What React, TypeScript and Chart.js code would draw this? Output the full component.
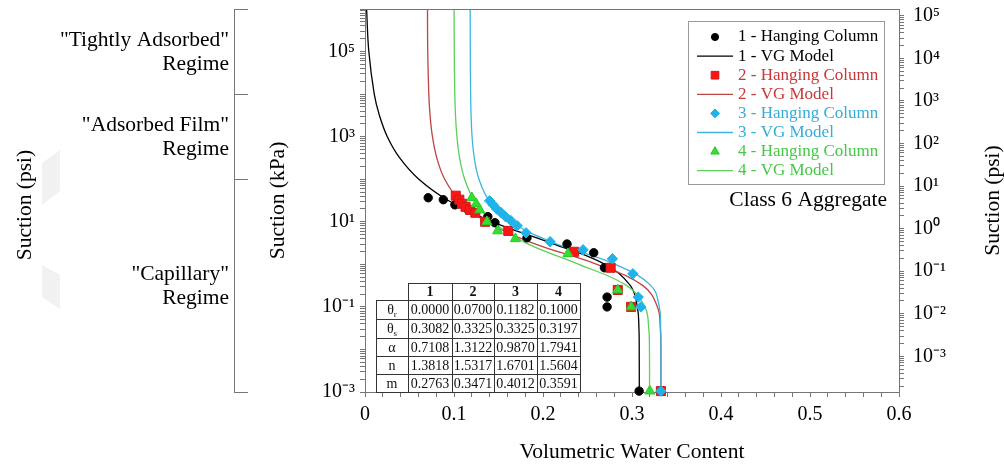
import React, { useEffect, useRef } from 'react';
import { Chart, registerables } from 'chart.js';
import { drawPoint } from 'chart.js/helpers';

Chart.register(...registerables);

const FONT = '"Liberation Serif", "Times New Roman", Times, serif';
const AXIS = '#767676';
const TITLE_SIZE = 21.5;

// ---------------- data ----------------
// VG model curves: suction (kPa) and volumetric water content along each curve
const vgSuction = [1000000, 100000, 10000, 3162, 1000, 316.2, 100, 31.62, 10, 3.162, 1, 0.3162, 0.1, 0.03162, 0.01, 0.001];
const vg1Theta = [0.0018, 0.0043, 0.0104, 0.0162, 0.0251, 0.039, 0.0605, 0.0936, 0.1432, 0.2092, 0.2696, 0.2982, 0.306, 0.3078, 0.3081, 0.3082];
const vg2Theta = [0.0702, 0.0705, 0.0717, 0.0731, 0.0758, 0.0807, 0.0896, 0.1062, 0.1364, 0.1886, 0.2605, 0.3123, 0.3286, 0.3318, 0.3324, 0.3325];
const vg3Theta = [0.1182, 0.1183, 0.1187, 0.1192, 0.1203, 0.1228, 0.1281, 0.1395, 0.164, 0.2127, 0.2812, 0.3213, 0.3307, 0.3322, 0.3325, 0.3325];
const vg4Theta = [0.1001, 0.1003, 0.1009, 0.1017, 0.1033, 0.1063, 0.112, 0.1228, 0.1434, 0.1812, 0.2403, 0.2941, 0.3145, 0.3188, 0.3196, 0.3197];

// Hanging column measurements
const hc1Theta = [0.071, 0.088, 0.101, 0.116, 0.138, 0.146, 0.182, 0.227, 0.257, 0.269, 0.272, 0.272, 0.308];
const hc1Suction = [36.7, 33, 25, 19, 13.2, 9.5, 4.2, 3.0, 1.87, 0.83, 0.17, 0.1, 0.00105];
const hc2Theta = [0.102, 0.106, 0.109, 0.113, 0.118, 0.124, 0.135, 0.161, 0.235, 0.276, 0.284, 0.299, 0.3325];
const hc2Suction = [41, 33, 26.5, 22.5, 19.1, 16.3, 10, 6.1, 1.97, 0.83, 0.25, 0.1, 0.00105];
const hc3Theta = [0.14, 0.144, 0.148, 0.153, 0.158, 0.164, 0.171, 0.181, 0.208, 0.245, 0.278, 0.301, 0.307, 0.31, 0.3325];
const hc3Suction = [31, 25, 20, 16.3, 13.1, 10.6, 8.05, 5.5, 3.4, 2.2, 1.35, 0.6, 0.17, 0.1, 0.00105];
const hc4Theta = [0.12, 0.125, 0.129, 0.137, 0.149, 0.169, 0.228, 0.284, 0.299, 0.32];
const hc4Suction = [36.7, 26.5, 19, 10, 6.1, 4.0, 1.77, 0.25, 0.1, 0.00105];

// axis ticks
const xLabelValues = [0, 0.1, 0.2, 0.3, 0.4, 0.5, 0.6];
const xTickLabels = ['0', '0.1', '0.2', '0.3', '0.4', '0.5', '0.6'];
const kpaLabelValues = [0.001, 0.1, 10, 1000, 100000];
const kpaTickLabels = ['10⁻³', '10⁻¹', '10¹', '10³', '10⁵'];
const psiLabelValues = [0.001, 0.01, 0.1, 1, 10, 100, 1000, 10000, 100000];
const psiTickLabels = ['10⁻³', '10⁻²', '10⁻¹', '10⁰', '10¹', '10²', '10³', '10⁴', '10⁵'];
const KPA_PER_PSI = 6.895;
const KPA_MIN = 0.001;
const KPA_MAX = 1000000;

// parameter table
const tableHeader = ['1', '2', '3', '4'];
const tableRowLabels = [['θ', 'r'], ['θ', 's'], ['α', ''], ['n', ''], ['m', '']];
const tableThetaR = ['0.0000', '0.0700', '0.1182', '0.1000'];
const tableThetaS = ['0.3082', '0.3325', '0.3325', '0.3197'];
const tableAlpha = ['0.7108', '1.3122', '0.9870', '1.7941'];
const tableN = ['1.3818', '1.5317', '1.6701', '1.5604'];
const tableM = ['0.2763', '0.3471', '0.4012', '0.3591'];

// suction regimes (kPa bounds)
const regimeBounds = [1000000, 10000, 100, 0.001];
const regimeLabels = [['"Tightly Adsorbed"', 'Regime'], ['"Adsorbed Film"', 'Regime'], ['"Capillary"', 'Regime']];

const series = [
  { name: '1', marker: 'circle', fill: '#000000', border: '#000000', radius: 4.2, line: '#000000', text: '#000000', hcT: hc1Theta, hcS: hc1Suction, vg: vg1Theta, mOrder: 3, lOrder: 13 },
  { name: '2', marker: 'rect', fill: '#ff1414', border: '#c81e1e', radius: 6.4, line: '#bf4444', text: '#c83737', hcT: hc2Theta, hcS: hc2Suction, vg: vg2Theta, mOrder: 2, lOrder: 12 },
  { name: '3', marker: 'rectRot', fill: '#1eb4ea', border: '#1eb4ea', radius: 5.2, line: '#3cb6e0', text: '#35acd8', hcT: hc3Theta, hcS: hc3Suction, vg: vg3Theta, mOrder: 0, lOrder: 10 },
  { name: '4', marker: 'triangle', fill: '#33dd33', border: '#2cc82c', radius: 5.8, line: '#5ccf5c', text: '#45c845', hcT: hc4Theta, hcS: hc4Suction, vg: vg4Theta, mOrder: 1, lOrder: 11 },
];

function decadeTicks(min: number, max: number) {
  const out: number[] = [];
  for (let k = -5; k <= 6; k++) {
    for (let m = 1; m <= 9; m++) {
      const v = m * Math.pow(10, k);
      if (v >= min * 0.9999 && v <= max * 1.0001) out.push(v);
    }
  }
  return out;
}

function labelFor(v: number, values: number[], labels: string[]) {
  for (let i = 0; i < values.length; i++) {
    if (Math.abs(Math.log10(v) - Math.log10(values[i])) < 1e-6) return labels[i];
  }
  return '';
}

const decorPlugin = {
  id: 'decor',
  afterDraw(chart: any) {
    const ctx: CanvasRenderingContext2D = chart.ctx;
    const { left, right, top, bottom } = chart.chartArea;
    const ys = chart.scales.y;
    ctx.save();

    // top frame line
    ctx.strokeStyle = AXIS;
    ctx.lineWidth = 1;
    ctx.beginPath();
    ctx.moveTo(left, top + 0.5);
    ctx.lineTo(right, top + 0.5);
    ctx.stroke();

    // faint watermark shapes at far left
    ctx.fillStyle = '#f1f1f1';
    ctx.beginPath();
    ctx.moveTo(42, 163); ctx.lineTo(60, 150); ctx.lineTo(60, 191); ctx.lineTo(42, 205); ctx.closePath();
    ctx.fill();
    ctx.beginPath();
    ctx.moveTo(42, 265); ctx.lineTo(60, 275); ctx.lineTo(60, 309); ctx.lineTo(42, 297); ctx.closePath();
    ctx.fill();

    // regime bracket
    const bx = left - 131;
    const ypix = regimeBounds.map((v) => Math.round(ys.getPixelForValue(v)) + 0.5);
    ctx.strokeStyle = AXIS;
    ctx.beginPath();
    ctx.moveTo(bx + 0.5, ypix[0]);
    ctx.lineTo(bx + 0.5, ypix[ypix.length - 1]);
    ypix.forEach((y) => {
      ctx.moveTo(bx, y);
      ctx.lineTo(bx + 14, y);
    });
    ctx.stroke();

    ctx.fillStyle = '#000';
    ctx.font = `${TITLE_SIZE}px ${FONT}`;
    ctx.textAlign = 'right';
    ctx.textBaseline = 'middle';
    regimeLabels.forEach((lines, i) => {
      const mid = (ypix[i] + ypix[i + 1]) / 2;
      ctx.fillText(lines[0], bx - 5, mid - 12);
      ctx.fillText(lines[1], bx - 5, mid + 12);
    });

    // left "Suction (psi)" title
    ctx.save();
    ctx.translate(25, 205);
    ctx.rotate(-Math.PI / 2);
    ctx.textAlign = 'center';
    ctx.fillText('Suction (psi)', 0, 0);
    ctx.restore();

    // right "Suction (psi)" title
    ctx.save();
    ctx.translate(993, (top + bottom) / 2);
    ctx.rotate(-Math.PI / 2);
    ctx.textAlign = 'center';
    ctx.fillText('Suction (psi)', 0, 0);
    ctx.restore();

    // annotation
    ctx.textAlign = 'right';
    ctx.fillText('Class 6 Aggregate', right - 12, top + 191);

    // legend
    const lx0 = right - 211, lx1 = right - 15, ly0 = top + 12, ly1 = top + 175;
    ctx.fillStyle = '#fff';
    ctx.fillRect(lx0, ly0, lx1 - lx0, ly1 - ly0);
    ctx.strokeStyle = '#9a9a9a';
    ctx.strokeRect(lx0 + 0.5, ly0 + 0.5, lx1 - lx0, ly1 - ly0);
    ctx.font = `17px ${FONT}`;
    ctx.textAlign = 'left';
    series.forEach((s, i) => {
      const y1 = top + 28 + (2 * i) * 19.1;
      const y2 = top + 28 + (2 * i + 1) * 19.1;
      ctx.fillStyle = s.fill;
      ctx.strokeStyle = s.border;
      ctx.lineWidth = 1;
      drawPoint(ctx, { pointStyle: s.marker, radius: s.radius * 0.85, rotation: 0, borderWidth: 1 } as any, right - 184, y1);
      ctx.strokeStyle = s.line;
      ctx.lineWidth = 1.3;
      ctx.beginPath();
      ctx.moveTo(right - 202, y2);
      ctx.lineTo(right - 166, y2);
      ctx.stroke();
      ctx.fillStyle = s.text;
      ctx.fillText(`${s.name} - Hanging Column`, right - 161, y1);
      ctx.fillText(`${s.name} - VG Model`, right - 161, y2);
    });

    // parameter table
    const tx = left + 11;
    const tyTop = bottom - 109;
    const colEdges = [0, 32, 76, 118, 161, 204].map((c) => tx + c);
    const rowEdges = [0, 17, 36, 55, 73, 91, 109].map((r) => tyTop + r);
    ctx.fillStyle = '#fff';
    ctx.fillRect(colEdges[1], rowEdges[0], colEdges[5] - colEdges[1], rowEdges[1] - rowEdges[0]);
    ctx.fillRect(colEdges[0], rowEdges[1], colEdges[5] - colEdges[0], rowEdges[6] - rowEdges[1]);
    ctx.strokeStyle = '#333';
    ctx.lineWidth = 1;
    ctx.beginPath();
    ctx.moveTo(colEdges[1], rowEdges[0] + 0.5);
    ctx.lineTo(colEdges[5], rowEdges[0] + 0.5);
    for (let r = 1; r < rowEdges.length; r++) {
      ctx.moveTo(colEdges[0], rowEdges[r] + 0.5);
      ctx.lineTo(colEdges[5], rowEdges[r] + 0.5);
    }
    ctx.moveTo(colEdges[0] + 0.5, rowEdges[1]);
    ctx.lineTo(colEdges[0] + 0.5, rowEdges[6]);
    for (let c = 1; c < colEdges.length; c++) {
      ctx.moveTo(colEdges[c] + 0.5, rowEdges[0]);
      ctx.lineTo(colEdges[c] + 0.5, rowEdges[6]);
    }
    ctx.stroke();

    ctx.fillStyle = '#111';
    ctx.textAlign = 'center';
    ctx.textBaseline = 'middle';
    ctx.font = `bold 14px ${FONT}`;
    tableHeader.forEach((h, c) => {
      ctx.fillText(h, (colEdges[c + 1] + colEdges[c + 2]) / 2, (rowEdges[0] + rowEdges[1]) / 2 + 1);
    });
    const rows = [tableThetaR, tableThetaS, tableAlpha, tableN, tableM];
    rows.forEach((vals, r) => {
      const cy = (rowEdges[r + 1] + rowEdges[r + 2]) / 2 + 1;
      const [main, sub] = tableRowLabels[r];
      ctx.font = `14px ${FONT}`;
      const w1 = ctx.measureText(main).width;
      ctx.font = `9px ${FONT}`;
      const w2 = sub ? ctx.measureText(sub).width : 0;
      const cx = (colEdges[0] + colEdges[1]) / 2;
      const sx = cx - (w1 + w2) / 2;
      ctx.textAlign = 'left';
      ctx.font = `14px ${FONT}`;
      ctx.fillText(main, sx, cy);
      if (sub) {
        ctx.font = `9px ${FONT}`;
        ctx.fillText(sub, sx + w1, cy + 4);
      }
      ctx.textAlign = 'center';
      ctx.font = `14px ${FONT}`;
      vals.forEach((v, c) => {
        ctx.fillText(v, (colEdges[c + 1] + colEdges[c + 2]) / 2, cy);
      });
    });

    ctx.restore();
  },
};

export default function App() {
  const ref = useRef<HTMLCanvasElement>(null);

  useEffect(() => {
    const canvas = ref.current;
    if (!canvas) return;

    const datasets: any[] = [];
    series.forEach((s) => {
      datasets.push({
        label: `${s.name} - VG Model`,
        data: s.vg.map((t, i) => ({ x: t, y: vgSuction[i] })),
        showLine: true,
        pointRadius: 0,
        borderColor: s.line,
        backgroundColor: s.line,
        borderWidth: 1.3,
        tension: 0.4,
        order: s.lOrder,
      });
      datasets.push({
        label: `${s.name} - Hanging Column`,
        data: s.hcT.map((t, i) => ({ x: t, y: s.hcS[i] })),
        showLine: false,
        pointStyle: s.marker,
        pointRadius: s.radius,
        pointBackgroundColor: s.fill,
        pointBorderColor: s.border,
        pointBorderWidth: 1,
        order: s.mOrder,
        clip: false,
      });
    });

    const kpaTicks = decadeTicks(KPA_MIN, KPA_MAX);
    const psiMin = KPA_MIN / KPA_PER_PSI;
    const psiMax = KPA_MAX / KPA_PER_PSI;
    const psiTicks = decadeTicks(psiMin, psiMax);
    const xTicks: number[] = [];
    for (let i = 0; i <= 30; i++) xTicks.push(Math.round(i * 2) / 100);

    const tickFont = { family: FONT, size: 20 };

    const chart = new Chart(canvas, {
      type: 'scatter',
      data: { datasets },
      options: {
        animation: false,
        responsive: false,
        devicePixelRatio: 1,
        events: [],
        layout: { padding: { left: 250, top: 9, right: 0, bottom: 0 } },
        plugins: {
          legend: { display: false },
          tooltip: { enabled: false },
        },
        scales: {
          x: {
            type: 'linear',
            position: 'bottom',
            min: 0,
            max: 0.6,
            afterBuildTicks: (s: any) => {
              s.ticks = xTicks.map((v) => ({ value: v }));
            },
            afterFit: (s: any) => {
              s.height = 74;
              s.paddingLeft = 0;
              s.paddingRight = 0;
            },
            ticks: {
              autoSkip: false,
              maxRotation: 0,
              padding: 6,
              color: '#000',
              font: tickFont,
              callback: (v: any) => {
                const i = xLabelValues.findIndex((lv) => Math.abs(lv - Number(v)) < 1e-9);
                return i >= 0 ? xTickLabels[i] : '';
              },
            },
            grid: { drawOnChartArea: false, tickLength: 5, color: AXIS, tickColor: AXIS },
            border: { display: true, color: AXIS, width: 1 },
            title: { display: true, text: 'Volumetric Water Content', color: '#000', font: { family: FONT, size: TITLE_SIZE }, padding: { top: 0, bottom: 1 } },
          },
          y: {
            type: 'logarithmic',
            position: 'left',
            min: KPA_MIN,
            max: KPA_MAX,
            afterBuildTicks: (s: any) => {
              s.ticks = kpaTicks.map((v) => ({ value: v }));
            },
            afterFit: (s: any) => {
              s.width = 115;
              s.paddingTop = 0;
              s.paddingBottom = 0;
            },
            ticks: {
              autoSkip: false,
              padding: 5,
              color: '#000',
              font: tickFont,
              callback: (v: any) => labelFor(Number(v), kpaLabelValues, kpaTickLabels),
            },
            grid: { drawOnChartArea: false, tickLength: 5, color: AXIS, tickColor: AXIS },
            border: { display: true, color: AXIS, width: 1 },
            title: { display: true, text: 'Suction (kPa)', color: '#000', font: { family: FONT, size: TITLE_SIZE }, padding: { top: 15, bottom: 0 } },
          },
          y2: {
            type: 'logarithmic',
            position: 'right',
            min: psiMin,
            max: psiMax,
            afterBuildTicks: (s: any) => {
              s.ticks = psiTicks.map((v) => ({ value: v }));
            },
            afterFit: (s: any) => {
              s.width = 105;
              s.paddingTop = 0;
              s.paddingBottom = 0;
            },
            ticks: {
              autoSkip: false,
              padding: 9,
              color: '#000',
              font: tickFont,
              callback: (v: any) => labelFor(Number(v), psiLabelValues, psiTickLabels),
            },
            grid: { drawOnChartArea: false, tickLength: 5, color: AXIS, tickColor: AXIS },
            border: { display: true, color: AXIS, width: 1 },
          },
        },
      } as any,
      plugins: [decorPlugin],
    });

    return () => chart.destroy();
  }, []);

  return (
    <div style={{ position: 'absolute', left: 0, top: 0, width: 1004, height: 466, background: '#fff' }}>
      <canvas ref={ref} width={1004} height={466} style={{ display: 'block', width: 1004, height: 466 }} />
    </div>
  );
}
